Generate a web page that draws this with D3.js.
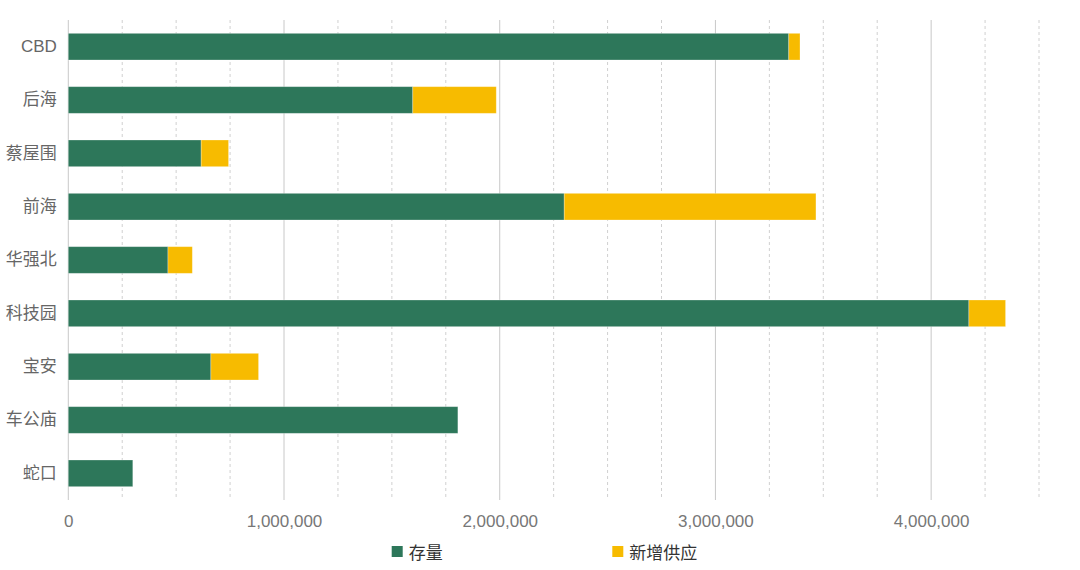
<!DOCTYPE html>
<html><head><meta charset="utf-8">
<script src="https://cdn.jsdelivr.net/npm/d3@7"></script>
<style>
html,body{margin:0;padding:0;background:#fff;}
svg{display:block;font-family:"Liberation Sans","Noto Sans CJK SC",sans-serif;}
</style></head>
<body>
<svg id="c" width="1080" height="570"></svg>
<script>
const categories = ["CBD","后海","蔡屋围","前海","华强北","科技园","宝安","车公庙","蛇口"];
const seriesNames = ["存量","新增供应"];
const stock = [3340000,1597000,616000,2299000,462000,4175000,661000,1806000,299000];
const newSupply = [52000,387000,127000,1167000,113000,170000,221000,0,0];
const majorTicks = [0,1000000,2000000,3000000,4000000];
const minorTicks = [250000,500000,750000,1250000,1500000,1750000,2250000,2500000,2750000,3250000,3500000,3750000,4250000,4500000];
const colors = ["#2d775a","#f7bb00"];

(function(){
const svg = d3.select("#c");
const mLeft = 68.3, mRight = 1039, mTop = 20, mBottom = 500;
const x = d3.scaleLinear().domain([0,4500000]).range([mLeft,mRight]);
const y = d3.scaleBand().domain(categories).range([mTop,mBottom]).paddingInner(0.5).paddingOuter(0.25);

// grid
svg.append("g").selectAll("line").data(minorTicks).join("line")
  .attr("x1",d=>x(d)).attr("x2",d=>x(d)).attr("y1",mTop).attr("y2",mBottom)
  .attr("stroke","#d0d0d0").attr("stroke-width",1).attr("stroke-dasharray","3,3");
svg.append("g").selectAll("line").data(majorTicks).join("line")
  .attr("x1",d=>x(d)).attr("x2",d=>x(d)).attr("y1",mTop).attr("y2",mBottom)
  .attr("stroke","#c8c8c8").attr("stroke-width",1);

// bars
const rows = categories.map((c,i)=>({cat:c, s:stock[i], n:newSupply[i]}));
const gb = svg.append("g");
gb.selectAll("rect.s").data(rows).join("rect").attr("class","s")
  .attr("x",x(0)).attr("y",d=>y(d.cat)).attr("width",d=>x(d.s)-x(0)).attr("height",y.bandwidth())
  .attr("fill",colors[0]).attr("stroke","rgba(255,255,255,0.35)").attr("stroke-width",0.8);
gb.selectAll("rect.n").data(rows.filter(d=>d.n>0)).join("rect").attr("class","n")
  .attr("x",d=>x(d.s)).attr("y",d=>y(d.cat)).attr("width",d=>x(d.s+d.n)-x(d.s)).attr("height",y.bandwidth())
  .attr("fill",colors[1]).attr("stroke","rgba(255,255,255,0.35)").attr("stroke-width",0.8);

// y axis labels
const ya = svg.append("g").attr("transform",`translate(${mLeft},0)`)
  .call(d3.axisLeft(y).tickSize(0).tickPadding(11.5));
ya.select(".domain").remove();
ya.selectAll("text").attr("fill","#666").style("font-size","17px")
  .style("font-family","'Liberation Sans','Noto Sans CJK SC',sans-serif");

// x axis labels
const xa = svg.append("g").attr("transform",`translate(0,${mBottom})`)
  .call(d3.axisBottom(x).tickValues(majorTicks).tickSize(0).tickPadding(15).tickFormat(d3.format(",")));
xa.select(".domain").remove();
xa.selectAll("text").attr("fill","#777").style("font-size","17px")
  .style("font-family","'Liberation Sans','Noto Sans CJK SC',sans-serif");

// legend
const legendX = [391.7, 612.3];
const lg = svg.append("g");
seriesNames.forEach((n,i)=>{
  lg.append("rect").attr("x",legendX[i]).attr("y",546).attr("width",11).attr("height",11).attr("fill",colors[i]);
  lg.append("text").attr("x",legendX[i]+17).attr("y",551.5).attr("dominant-baseline","central")
    .attr("fill","#333").style("font-size","17px").style("font-family","'Noto Sans CJK SC',sans-serif").text(n);
});
})();
</script>
</body></html>
